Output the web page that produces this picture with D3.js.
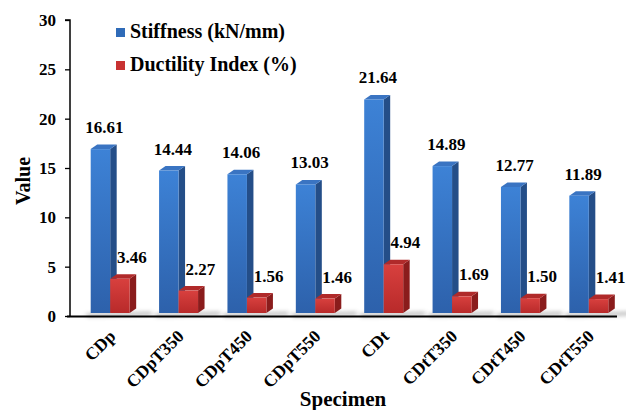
<!DOCTYPE html>
<html>
<head>
<meta charset="utf-8">
<script src="https://cdn.jsdelivr.net/npm/d3@7"></script>
<style>
  body { margin: 0; background: #fff; }
  text { font-family: "Liberation Serif", "Times New Roman", serif; font-weight: bold; fill: #000; }
</style>
</head>
<body>
<div id="chart"></div>
<script>
'use strict';

// data
var categories = ["CDp", "CDpT350", "CDpT450", "CDpT550", "CDt", "CDtT350", "CDtT450", "CDtT550"];
var stiffness = [16.61, 14.44, 14.06, 13.03, 21.64, 14.89, 12.77, 11.89];
var ductility = [3.46, 2.27, 1.56, 1.46, 4.94, 1.69, 1.50, 1.41];
var seriesNames = ["Stiffness (kN/mm)", "Ductility Index (%)"];
var yTicks = [0, 5, 10, 15, 20, 25, 30];

var App = {
    width: 626,
    height: 410,
    depthX: 6.5,
    depthY: 4.5,
    lift: 3,
    shift: 6
};

var colors = [
    { top: "#3a74c2", front1: "#3d82d6", front2: "#2d61ab", side: "#244e88", legend: "#2f6bb8" },
    { top: "#b02a2a", front1: "#d8403e", front2: "#b82a2a", side: "#8a1c1c", legend: "#c83232" }
];

var svg = d3.select("#chart").append("svg")
    .attr("width", App.width)
    .attr("height", App.height);

var defs = svg.append("defs");
colors.forEach(function(c, i) {
    var g = defs.append("linearGradient")
        .attr("id", "front" + i)
        .attr("x1", 0).attr("y1", 0).attr("x2", 0).attr("y2", 1);
    g.append("stop").attr("offset", "0%").attr("stop-color", c.front1);
    g.append("stop").attr("offset", "100%").attr("stop-color", c.front2);
});
defs.append("filter").attr("id", "blur")
    .attr("x", "-20%").attr("y", "-200%").attr("width", "140%").attr("height", "500%")
    .append("feGaussianBlur").attr("stdDeviation", 2);

var y = d3.scaleLinear().domain([0, 30]).range([316, 20]);

var x0 = d3.scaleBand()
    .domain(categories)
    .range([70, 617])
    .paddingInner(0.43)
    .paddingOuter(0.215);

var x1 = d3.scaleBand()
    .domain([0, 1])
    .range([0, x0.bandwidth()]);

// AXES

var yAxis = d3.axisLeft(y).tickValues(yTicks).tickSize(5).tickPadding(9).tickFormat(d3.format("d"));
var ya = svg.append("g")
    .attr("transform", "translate(70,0)")
    .call(yAxis);
ya.select(".domain").attr("stroke", "#000").attr("stroke-width", 1.5).attr("d", "M-5,20H0V316");
ya.selectAll(".tick line").attr("stroke", "#000").attr("stroke-width", 1.3);
ya.selectAll(".tick text").style("font-size", "17px").style("font-family", null);

// floor shadows
var groups = svg.append("g").selectAll("g")
    .data(categories)
    .enter().append("g");

groups.append("polygon")
    .attr("points", function(d) {
        var xl = x0(d) + App.shift - 6, xr = x0(d) + App.shift + x0.bandwidth() + 22;
        var yb = y(0) - 2;
        return [[xl, yb], [xr, yb - 2], [xr, yb + 1], [xl + 4, yb + 3]].join(" ");
    })
    .attr("fill", "#8c8c8c")
    .attr("opacity", 0.7)
    .attr("filter", "url(#blur)");

svg.append("line")
    .attr("x1", 67).attr("x2", 617)
    .attr("y1", 316.5).attr("y2", 316.5)
    .attr("stroke", "#000")
    .attr("stroke-width", 2);

// BARS

var series = [stiffness, ductility];

series.forEach(function(values, s) {
    var c = colors[s];
    var bars = svg.append("g").selectAll("g")
        .data(categories.map(function(cat, i) { return { cat: cat, v: values[i] }; }))
        .enter().append("g");

    function geom(d) {
        var x = x0(d.cat) + App.shift + x1(s);
        var w = x1.bandwidth();
        var yt = y(d.v) - App.lift;
        var yb = y(0) - App.lift;
        return { x: x, w: w, yt: yt, yb: yb };
    }

    bars.append("polygon")
        .attr("points", function(d) {
            var g = geom(d);
            return [[g.x + g.w, g.yt], [g.x + g.w + App.depthX, g.yt - App.depthY],
                    [g.x + g.w + App.depthX, g.yb - App.depthY], [g.x + g.w, g.yb]].join(" ");
        })
        .attr("fill", c.side);

    bars.append("polygon")
        .attr("points", function(d) {
            var g = geom(d);
            return [[g.x, g.yt], [g.x + g.w, g.yt], [g.x + g.w + App.depthX, g.yt - App.depthY],
                    [g.x + App.depthX, g.yt - App.depthY]].join(" ");
        })
        .attr("fill", c.top);

    bars.append("rect")
        .attr("x", function(d) { return geom(d).x; })
        .attr("y", function(d) { return geom(d).yt; })
        .attr("width", function(d) { return geom(d).w; })
        .attr("height", function(d) { var g = geom(d); return g.yb - g.yt; })
        .attr("fill", "url(#front" + s + ")");

    bars.append("text")
        .attr("x", function(d) { var g = geom(d); return g.x + g.w / 2 + (s === 0 ? 4 : 12); })
        .attr("y", function(d) { return geom(d).yt - 16; })
        .attr("text-anchor", "middle")
        .style("font-size", "17px")
        .text(function(d) { return d.v.toFixed(2); });
});

// CATEGORY LABELS

svg.append("g").selectAll("text")
    .data(categories)
    .enter().append("text")
    .attr("transform", function(d) {
        var cx = x0(d) + App.shift + x0.bandwidth() / 2 + 2;
        return "translate(" + cx + ",333) rotate(-45)";
    })
    .attr("text-anchor", "end")
    .attr("dy", "0.35em")
    .style("font-size", "17.5px")
    .text(function(d) { return d; });

// TITLES

svg.append("text")
    .attr("transform", "translate(30,181) rotate(-90)")
    .attr("text-anchor", "middle")
    .style("font-size", "20px")
    .text("Value");

svg.append("text")
    .attr("x", 343)
    .attr("y", 406)
    .attr("text-anchor", "middle")
    .style("font-size", "21px")
    .text("Specimen");

// LEGEND

var legend = svg.append("g").selectAll("g")
    .data(seriesNames)
    .enter().append("g")
    .attr("transform", function(d, i) { return "translate(116," + (28 + i * 33) + ")"; });

legend.append("rect")
    .attr("width", 9).attr("height", 9)
    .attr("fill", function(d, i) { return colors[i].legend; });

legend.append("text")
    .attr("x", 14)
    .attr("y", 10)
    .style("font-size", "20px")
    .text(function(d) { return d; });
</script>
</body>
</html>
